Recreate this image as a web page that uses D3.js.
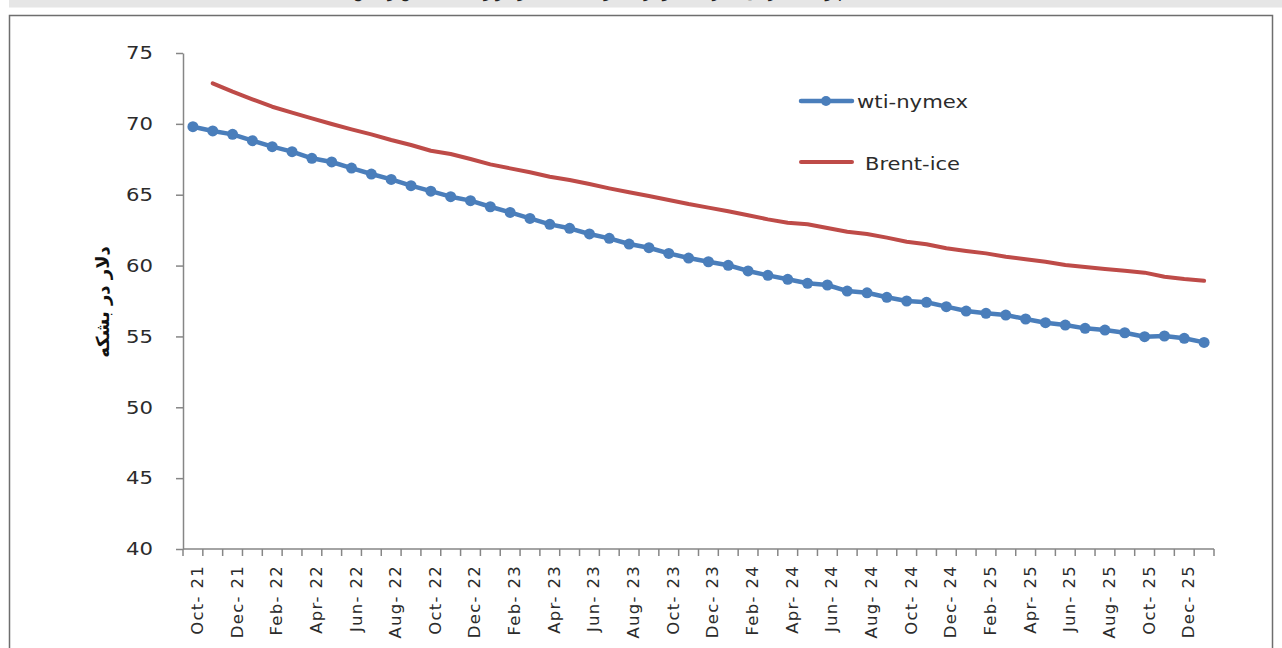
<!DOCTYPE html>
<html>
<head>
<meta charset="utf-8">
<script src="https://cdn.jsdelivr.net/npm/d3@7/dist/d3.min.js"></script>
<style>
  html, body { margin: 0; padding: 0; background: #fff; }
  svg { display: block; }
</style>
</head>
<body>
<svg id="chart" width="1282" height="648"></svg>
<script>
// Monthly futures curve, Oct-21 through Jan-26
const months = ["Jan","Feb","Mar","Apr","May","Jun","Jul","Aug","Sep","Oct","Nov","Dec"];
const categories = [];
for (let k = 0; k < 52; k++) {
  const m = (9 + k) % 12;
  const y = 21 + Math.floor((9 + k) / 12);
  categories.push(months[m] + "-" + y);
}

// WTI (NYMEX) settlement curve, $/bbl
const wtiValues = [
  69.80, 69.50, 69.26, 68.81, 68.39, 68.04, 67.57, 67.31, 66.88, 66.46,
  66.08, 65.64, 65.25, 64.86, 64.58, 64.15, 63.75, 63.33, 62.91, 62.63,
  62.23, 61.92, 61.52, 61.26, 60.86, 60.53, 60.27, 60.02, 59.62, 59.31,
  59.03, 58.75, 58.63, 58.20, 58.08, 57.76, 57.50, 57.41, 57.10, 56.79,
  56.63, 56.51, 56.23, 55.97, 55.80, 55.57, 55.45, 55.26, 54.98, 55.03,
  54.87, 54.58
];

// Brent (ICE) curve, $/bbl — starts one month later
const brentValues = [
  null,  72.86, 72.27, 71.73, 71.21, 70.79, 70.39, 69.99, 69.61, 69.26,
  68.86, 68.51, 68.10, 67.87, 67.52, 67.14, 66.86, 66.58, 66.27, 66.04,
  65.76, 65.45, 65.17, 64.91, 64.63, 64.34, 64.09, 63.83, 63.55, 63.26,
  63.02, 62.91, 62.65, 62.39, 62.23, 61.97, 61.68, 61.50, 61.22, 61.03,
  60.86, 60.62, 60.44, 60.27, 60.04, 59.90, 59.76, 59.64, 59.50, 59.21,
  59.05, 58.93
];

const yTicks = [40, 45, 50, 55, 60, 65, 70, 75];
const seriesNames = ["wti-nymex", "Brent-ice"];
const yTitle = "دلار در بشکه";
const pageTitle = "قیمت های آتی نفت خام وست تگزاس اینترمدیت و برنت دریای شمال در بازارهای نایمکس و آیس";

const blue = "#4a7ebb";
const red = "#be4b48";
const axisGray = "#868686";
const textColor = "#2b2b2b";
const font = "DejaVu Sans, sans-serif";

const svg = d3.select("#chart");

// top strip with the heading (runs off the top edge)
svg.append("rect").attr("x", 9).attr("y", 0).attr("width", 1273).attr("height", 7.5).attr("fill", "#e6e6e6");
svg.append("text")
  .attr("x", 675).attr("y", -3)
  .attr("text-anchor", "middle")
  .attr("direction", "rtl")
  .attr("font-family", font)
  .attr("font-size", 16)
  .attr("fill", "#222")
  .text(pageTitle);

// chart frame
svg.append("rect")
  .attr("x", 9.5).attr("y", 15.5)
  .attr("width", 1263).attr("height", 660)
  .attr("fill", "#fff")
  .attr("stroke", "#6e6e6e").attr("stroke-width", 1.5);

const x = d3.scaleBand().domain(categories).range([183, 1214]).paddingInner(0).paddingOuter(0);
const y = d3.scaleLinear().domain([40, 75]).range([549, 53]);
const cx = d => x(d) + x.bandwidth() / 2;

// y axis
const yAxis = svg.append("g").attr("transform", "translate(183,0)")
  .call(d3.axisLeft(y).tickValues(yTicks).tickSize(7).tickSizeOuter(0).tickPadding(23));
yAxis.select(".domain").attr("stroke", axisGray).attr("stroke-width", 1.5);
yAxis.selectAll(".tick line").attr("stroke", axisGray).attr("stroke-width", 1.5);
yAxis.selectAll(".tick text")
  .attr("font-family", font)
  .attr("font-size", 18).attr("fill", textColor)
  .attr("textLength", 27).attr("lengthAdjust", "spacingAndGlyphs");

// x axis: ticks on category boundaries, labels every second month
const xAxisG = svg.append("g").attr("transform", "translate(0,549)");
xAxisG.append("line")
  .attr("x1", 183).attr("x2", x.range()[1])
  .attr("stroke", axisGray).attr("stroke-width", 1.5);
const bounds = categories.map(c => x(c)).concat([x.range()[1]]);
xAxisG.selectAll("line.tk").data(bounds).join("line")
  .attr("class", "tk")
  .attr("x1", d => d).attr("x2", d => d)
  .attr("y1", 0).attr("y2", 7)
  .attr("stroke", axisGray).attr("stroke-width", 1.5);
xAxisG.selectAll("text").data(categories.filter((c, i) => i % 2 === 0)).join("text")
  .attr("transform", d => `translate(${cx(d) + 10},${16}) rotate(-90)`)
  .attr("text-anchor", "end")
  .attr("font-family", font)
  .attr("font-size", 16.5)
  .attr("letter-spacing", 1.3)
  .attr("fill", textColor)
  .text(d => d.replace("-", "- "));

// y axis title
svg.append("text")
  .attr("transform", "translate(109,302) rotate(-90)")
  .attr("text-anchor", "middle")
  .attr("direction", "rtl")
  .attr("font-family", font)
  .attr("font-weight", "bold")
  .attr("font-size", 18)
  .attr("fill", "#111")
  .text(yTitle);

// Brent line
const brentData = categories.map((c, i) => ({ c, v: brentValues[i] })).filter(d => d.v != null);
svg.append("path")
  .datum(brentData)
  .attr("fill", "none")
  .attr("stroke", red).attr("stroke-width", 4)
  .attr("stroke-linejoin", "round").attr("stroke-linecap", "round")
  .attr("d", d3.line().x(d => cx(d.c)).y(d => y(d.v)));

// WTI line with markers
const wtiData = categories.map((c, i) => ({ c, v: wtiValues[i] }));
svg.append("path")
  .datum(wtiData)
  .attr("fill", "none")
  .attr("stroke", blue).attr("stroke-width", 4.5)
  .attr("stroke-linejoin", "round")
  .attr("d", d3.line().x(d => cx(d.c)).y(d => y(d.v)));
svg.append("g").selectAll("circle").data(wtiData).join("circle")
  .attr("cx", d => cx(d.c)).attr("cy", d => y(d.v))
  .attr("r", 5.5).attr("fill", blue);

// legend
const legend = svg.append("g");
legend.append("line").attr("x1", 801).attr("x2", 852).attr("y1", 101).attr("y2", 101)
  .attr("stroke", blue).attr("stroke-width", 4.5).attr("stroke-linecap", "round");
legend.append("circle").attr("cx", 826).attr("cy", 101).attr("r", 5).attr("fill", blue);
legend.append("text").attr("x", 857).attr("y", 108)
  .attr("font-family", font).attr("font-size", 18).attr("fill", textColor)
  .attr("textLength", 111).attr("lengthAdjust", "spacingAndGlyphs")
  .text(seriesNames[0]);
legend.append("line").attr("x1", 801).attr("x2", 852).attr("y1", 162).attr("y2", 162)
  .attr("stroke", red).attr("stroke-width", 4).attr("stroke-linecap", "round");
legend.append("text").attr("x", 865).attr("y", 170)
  .attr("font-family", font).attr("font-size", 18).attr("fill", textColor)
  .attr("textLength", 95).attr("lengthAdjust", "spacingAndGlyphs")
  .text(seriesNames[1]);
</script>
</body>
</html>
